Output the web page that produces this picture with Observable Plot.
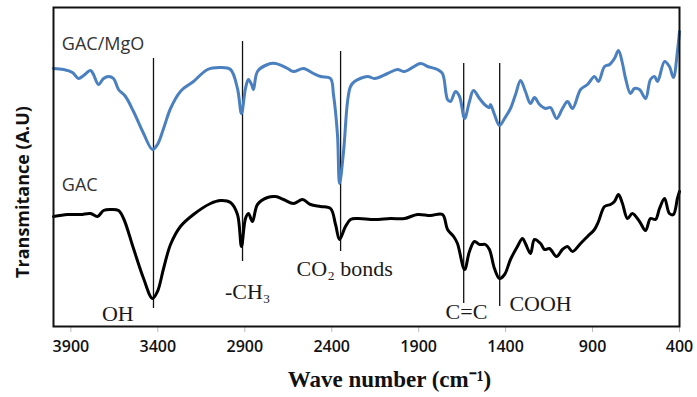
<!DOCTYPE html>
<html>
<head>
<meta charset="utf-8">
<script src="https://cdn.jsdelivr.net/npm/d3@7"></script>
<script src="https://cdn.jsdelivr.net/npm/@observablehq/plot@0.6"></script>
<style>
  html, body { margin: 0; padding: 0; background: #fff; }
  #chart svg { display: block; }
</style>
</head>
<body>
<div id="chart"></div>
<script>
// GAC/MgO spectrum (wave number cm-1, transmittance A.U.)
const mgoWave = [4000,3942,3891,3856,3827,3787,3770,3741,3712,3684,3655,3626,3586,3540,3482,3431,3402,3367,3327,3270,3195,3114,3040,2982,2942,2919,2896,2879,2861,2850,2827,2769,2723,2654,2620,2562,2505,2464,2407,2390,2367,2355,2332,2309,2292,2269,2194,2154,2079,2022,1981,1889,1849,1792,1763,1734,1717,1688,1665,1636,1608,1585,1550,1521,1493,1487,1464,1435,1406,1372,1343,1314,1286,1257,1234,1205,1170,1142,1107,1073,1044,1015,969,929,889,866,831,802,774,751,728,710,682,659,630,595,567,544,526,486,458,435,412,400];
const mgoT = [258,257,254,248,251,256,252,242,248,250,248,237,230,215,193,177,182,198,218,235,245,257,259,257,238,213,238,247,242,237,255,262,263,258,255,258,253,250,248,232,192,143,175,225,240,245,250,248,253,257,255,263,260,257,253,227,225,235,230,208,225,236,228,222,219,222,212,201,208,218,232,246,235,223,229,222,218,219,208,218,225,218,237,242,250,245,260,262,268,276,263,248,233,238,237,228,247,250,245,265,260,249,275,295];

// GAC spectrum
const gacWave = [4000,3919,3845,3787,3747,3712,3672,3626,3597,3540,3482,3431,3402,3367,3327,3270,3195,3097,3040,2982,2942,2919,2896,2879,2856,2827,2769,2723,2677,2620,2568,2522,2464,2407,2378,2355,2321,2292,2252,2154,2062,1981,1907,1832,1763,1734,1699,1677,1636,1608,1579,1550,1516,1493,1464,1435,1406,1372,1332,1303,1286,1257,1234,1199,1176,1148,1107,1073,1044,1015,969,929,889,866,831,797,774,751,728,699,671,630,595,567,538,515,486,458,435,412,400];
const gacT = [110,112,112,113,110,116,117,116,108,78,48,28,35,58,82,100,112,123,126,124,112,80,108,113,105,122,129,130,127,123,127,122,120,118,102,87,100,107,108,107,108,108,112,111,112,97,90,83,57,75,85,82,82,77,58,48,52,67,80,88,83,73,87,83,77,78,70,77,80,75,83,90,97,105,120,122,125,132,123,108,113,105,96,108,107,118,128,113,112,128,135];

// Band markers
const bandWave = [3425, 2913, 2349, 1641, 1434];
const bandTop = [268, 285, 275, 263, 263];
const bandBottom = [18, 65, 75, 23, 20];
const bandLabels = ["OH", "-CH₃", "CO₂ bonds", "C=C", "COOH"];
const bandLabelWave = [3630, 2883, 2325, 1625, 1199];
const bandLabelT = [13, 35, 58, 15, 23];

// Series labels
const seriesNames = ["GAC/MgO", "GAC"];
const seriesLabelWave = [3952, 3952];
const seriesLabelT = [282, 141];

const xTicks = [3900, 3400, 2900, 2400, 1900, 1400, 900, 400];

const mgo = mgoWave.map((w, i) => ({w, t: mgoT[i]}));
const gac = gacWave.map((w, i) => ({w, t: gacT[i]}));
const bands = bandWave.map((w, i) => ({w, y1: bandBottom[i], y2: bandTop[i]}));
const bandText = bandLabels.map((s, i) => ({s, w: bandLabelWave[i], t: bandLabelT[i]}));
const seriesText = seriesNames.map((s, i) => ({s, w: seriesLabelWave[i], t: seriesLabelT[i]}));

const chart = Plot.plot({
  width: 697,
  height: 397,
  marginLeft: 53,
  marginRight: 18,
  marginTop: 7,
  marginBottom: 71,
  style: {fontFamily: "'Open Sans', sans-serif", background: "#fff"},
  x: {domain: [4000, 400], ticks: xTicks, tickFormat: d => String(d)},
  y: {domain: [0, 319], axis: null},
  marks: [
    Plot.axisX({ticks: xTicks, tickFormat: d => String(d), tickSize: 6, stroke: "#bbb", tickPadding: 8,
      fontSize: 16, fontWeight: 600, fill: "#111", label: null}),
    Plot.ruleX(bands, {x: "w", y1: "y1", y2: "y2", stroke: "#111", strokeWidth: 1.3}),
    Plot.line(mgo, {x: "w", y: "t", stroke: "#4a7fc0", strokeWidth: 3, curve: "catmull-rom"}),
    Plot.line(gac, {x: "w", y: "t", stroke: "#000", strokeWidth: 3, curve: "catmull-rom"}),
    Plot.text(bandText, {x: "w", y: "t", text: "s", fontFamily: "'Liberation Serif', 'Times New Roman', serif",
      fontSize: 22, fill: "#1a1a1a"}),
    Plot.text(seriesText, {x: "w", y: "t", text: "s", textAnchor: "start", fontFamily: "'Open Sans', sans-serif",
      fontSize: 18, fill: "#333", letterSpacing: "0.5px"}),
    Plot.frame({stroke: "#111", strokeWidth: 2}),
    Plot.text(["Transmitance (A.U)"], {frameAnchor: "left", textAnchor: "middle", dx: -30, dy: 25, rotate: -90,
      fontFamily: "'Open Sans', sans-serif", fontWeight: "bold", fontSize: 18, fill: "#111", letterSpacing: "0.8px"}),
    Plot.text(["Wave number (cm⁻¹)"], {frameAnchor: "bottom", dy: 60, dx: 23,
      fontFamily: "'Liberation Serif', 'Times New Roman', serif", fontWeight: "bold", fontSize: 23,
      fill: "#111", letterSpacing: "1.2px"})
  ]
});
document.getElementById("chart").append(chart);
</script>
</body>
</html>
